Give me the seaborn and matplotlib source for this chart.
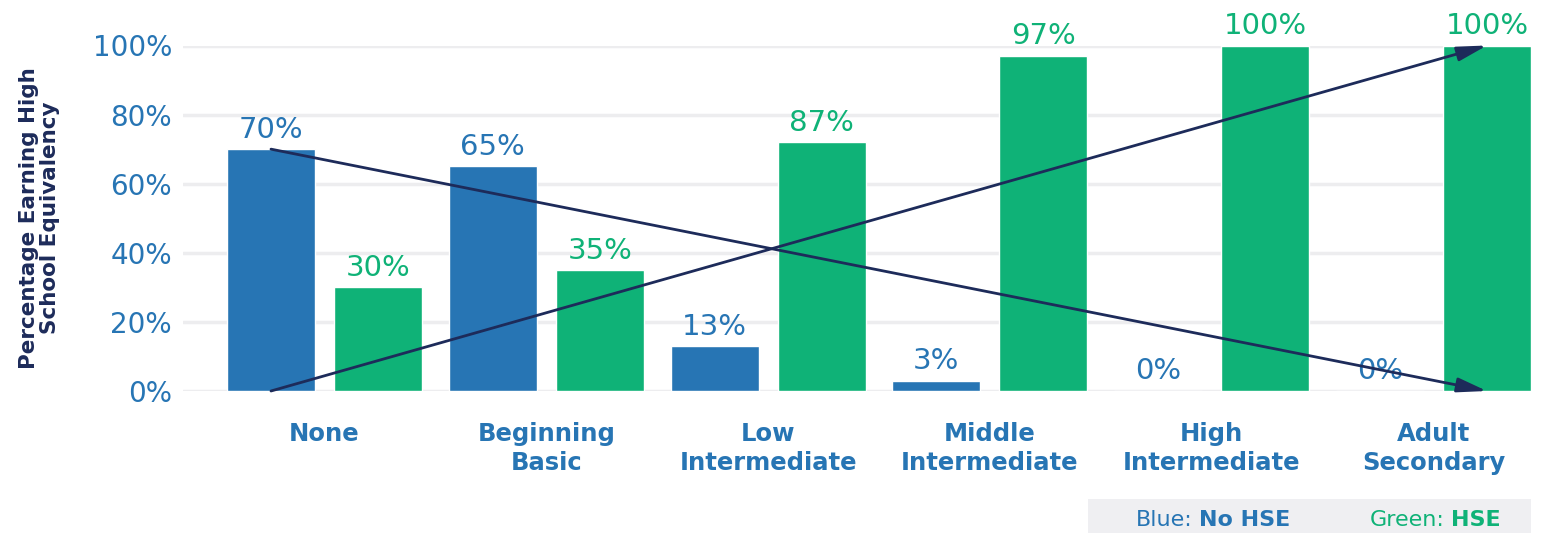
import matplotlib
matplotlib.use("Agg")
import matplotlib.pyplot as plt
import seaborn as sns
import pandas as pd
from matplotlib.patches import Rectangle

# ---- data ----
categories = ["None", "Beginning\nBasic", "Low\nIntermediate", "Middle\nIntermediate",
              "High\nIntermediate", "Adult\nSecondary"]
no_hse = [70, 65, 13, 3, 0, 0]
hse = [30, 35, 72, 97, 100, 100]
no_hse_labels = ["70%", "65%", "13%", "3%", "0%", "0%"]
hse_labels = ["30%", "35%", "87%", "97%", "100%", "100%"]
series_names = ["No HSE", "HSE"]
y_ticks = [0, 20, 40, 60, 80, 100]
y_tick_labels = ["0%", "20%", "40%", "60%", "80%", "100%"]

BLUE = "#2775b4"
GREEN = "#0fb277"
NAVY = "#1d2b5a"
GRID = "#ededef"

df = pd.DataFrame({
    "level": categories * 2,
    "pct": no_hse + hse,
    "group": [series_names[0]] * len(categories) + [series_names[1]] * len(categories),
})

sns.set_theme(style="white")
plt.rcParams["font.family"] = ["DejaVu Sans"]

fig = plt.figure(figsize=(15.41, 5.33), dpi=100)
ax = fig.add_axes([183 / 1541, 1 - 391 / 533, (1531 - 183) / 1541, (391 - 45.5) / 533])

sns.barplot(data=df, x="level", y="pct", hue="group", order=categories,
            hue_order=series_names, palette=[BLUE, GREEN], width=0.965, gap=0.177,
            saturation=1, ax=ax, legend=False, zorder=2)

ax.set_ylim(0, 100)
ax.set_xlim(-0.638, 5.44)
ax.set_yticks(y_ticks)
ax.set_yticklabels(y_tick_labels, color=BLUE, fontsize=20)
ax.tick_params(axis="y", length=0, pad=8)
ax.tick_params(axis="x", length=0, pad=22)
for lbl in ax.get_xticklabels():
    lbl.set_color(BLUE)
    lbl.set_fontweight("bold")
    lbl.set_fontsize(17.5)
    lbl.set_linespacing(1.3)
    lbl.set_verticalalignment("top")

ax.yaxis.grid(True, color=GRID, linewidth=2.5, zorder=0)
ax.set_axisbelow(True)
for s in ax.spines.values():
    s.set_visible(False)
ax.set_xlabel("")
ax.set_ylabel("Percentage Earning High\nSchool Equivalency", color=NAVY,
              fontsize=15.5, fontweight="bold", linespacing=1.1)
ax.yaxis.set_label_coords(-0.091, 0.5)

# value labels
cont_blue, cont_green = ax.containers[0], ax.containers[1]
ax.bar_label(cont_blue, labels=no_hse_labels, padding=4, color=BLUE, fontsize=21)
ax.bar_label(cont_green, labels=hse_labels, padding=4, color=GREEN, fontsize=21)

# arrows derived from bar positions
b0 = cont_blue[0]
gN = cont_green[len(categories) - 1]
x_start = b0.get_x() + b0.get_width() / 2
x_end = gN.get_x() + gN.get_width() / 2
arrow = dict(arrowstyle="-|>,head_length=0.9,head_width=0.22", color=NAVY, lw=2,
             mutation_scale=20, shrinkA=0, shrinkB=0)
ax.annotate("", xy=(x_end, no_hse[-1]), xytext=(x_start, no_hse[0]),
            arrowprops=arrow, zorder=5, annotation_clip=False)
ax.annotate("", xy=(x_end, hse[-1]), xytext=(x_start, no_hse[-1]),
            arrowprops=arrow, zorder=5, annotation_clip=False)

# legend box
fig.patches.append(Rectangle((1088 / 1541, 0), (1531 - 1088) / 1541, (533 - 499) / 533,
                             transform=fig.transFigure, facecolor="#efeff2",
                             edgecolor="none", zorder=0))
ty = 1 - 520 / 533
fig.text(1193 / 1541, ty, "Blue:", color=BLUE, fontsize=16, ha="right", va="center")
fig.text(1199 / 1541, ty, "No HSE", color=BLUE, fontsize=16, fontweight="bold",
         ha="left", va="center")
fig.text(1445 / 1541, ty, "Green:", color=GREEN, fontsize=16, ha="right", va="center")
fig.text(1451 / 1541, ty, "HSE", color=GREEN, fontsize=16, fontweight="bold",
         ha="left", va="center")

fig.savefig("out.png", dpi=100)
